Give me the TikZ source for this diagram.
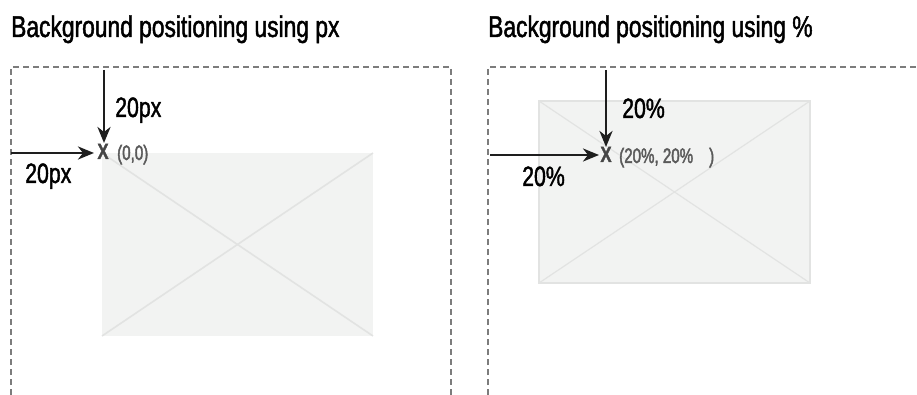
\documentclass[tikz,border=0pt]{standalone}
\usepackage{fontspec}
\setmainfont{Liberation Sans}[FakeStretch=0.76,FakeBold=1.5]
\newfontfamily\notefont{Liberation Sans}[FakeStretch=0.72,FakeBold=2]
\usetikzlibrary{arrows.meta}
\definecolor{frame}{HTML}{7C7C7C}
\definecolor{imgfill}{HTML}{F2F3F2}
\definecolor{imgline}{HTML}{E2E3E2}
\definecolor{ink}{HTML}{1E1E1E}
\definecolor{mark}{HTML}{454545}
\definecolor{note}{HTML}{5A5A5A}
\tikzset{
  title/.style={anchor=base west,inner sep=0pt,font=\fontsize{30}{33}\selectfont,text=black},
  dist/.style={anchor=base west,inner sep=0pt,font=\fontsize{28}{31}\selectfont,text=black},
  origin/.style={anchor=base,inner sep=0pt,font=\fontsize{22}{24}\selectfont\bfseries,text=mark},
  coord/.style={anchor=base west,inner sep=0pt,font=\notefont\fontsize{21}{23}\selectfont,text=note},
  container/.style={draw=frame,line width=2pt,dash pattern=on 6pt off 4pt},
  picture/.style={fill=imgfill},
  cross/.style={draw=imgline,line width=1.6pt},
  offset/.style={draw=ink,line width=2.6pt,-{Stealth[length=16pt,width=13pt,inset=5pt]}}
}
\begin{document}
\begin{tikzpicture}[x=1pt,y=-1pt]
\useasboundingbox (0,0) rectangle (917,395);

% ---------- left panel: pixel offsets ----------
\node[title] (t1) at (11,37) {Background positioning using px};
\draw[container] (11,395) -- (11,67) -- (451,67) -- (451,395);
\fill[picture] (102,153) rectangle (373,336);
\draw[cross] (102,153) -- (373,336) (102,336) -- (373,153);

\node[origin] (x1) at (103,159) {X};
\node[coord] (c1) at (117,160) {(0,0)};
\coordinate (v1) at (104,70);
\coordinate (h1) at (11,153);
\draw[offset] (v1) -- (104,143);
\draw[offset] (h1) -- (94,153);
\node[dist] (d1) at (115,117) {20px};
\node[dist] (d2) at (25,183) {20px};

% ---------- right panel: percentage offsets ----------
\node[title] (t2) at (488,37) {Background positioning using \%};
\draw[container] (488,395) -- (488,67) -- (917,67);
\fill[picture,draw=imgline,line width=1.6pt] (539,101) rectangle (810,283);
\draw[cross,line width=1.2pt] (539,101) -- (810,283) (539,283) -- (810,101);

\node[origin] (x2) at (606,162) {X};
\node[coord] (c2) at (619,163) {(20\%, 20\%\hspace{16pt})};
\coordinate (v2) at (606,70);
\coordinate (h2) at (490,155);
\draw[offset] (v2) -- (606,147);
\draw[offset] (h2) -- (599,155);
\node[dist] (d3) at (622,118) {20\%};
\node[dist] (d4) at (522,186) {20\%};
\end{tikzpicture}
\end{document}
